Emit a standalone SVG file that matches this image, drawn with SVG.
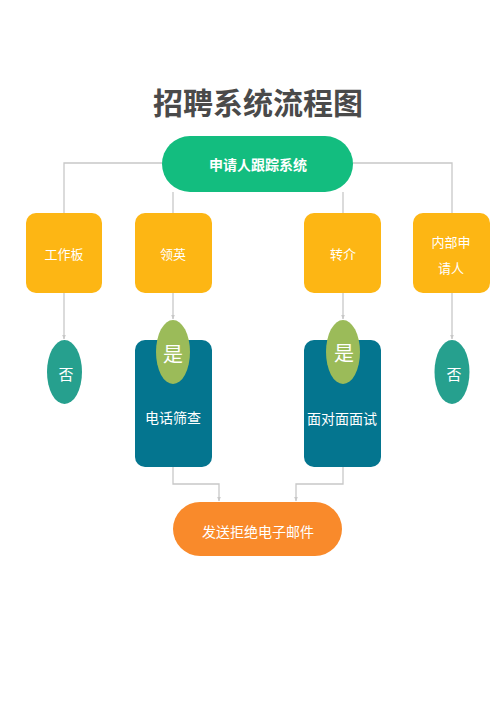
<svg xmlns="http://www.w3.org/2000/svg" width="500" height="707" viewBox="0 0 500 707">
<style>
.t{font-family:"Noto Sans CJK SC","Noto Sans",sans-serif;fill:#fff;text-anchor:middle;dominant-baseline:central}
.c{fill:none;stroke:#c8c8c8;stroke-width:1.3}
.y{fill:#fdb614}
.b{fill:#04758f}
.g{fill:#9bbb59}
.n{fill:#26a08e}
</style>
<defs>
<marker id="a" viewBox="0 0 10 10" refX="9" refY="5" markerWidth="5" markerHeight="5" orient="auto" markerUnits="userSpaceOnUse">
<path d="M0,1 L10,5 L0,9 z" fill="#c8c8c8"/>
</marker>
</defs>
<rect width="500" height="707" fill="#fff"/>
<text x="258" y="101" class="t" style="fill:#4a4a4a;font-size:30px;font-weight:bold">招聘系统流程图</text>
<g id="connectors">
<path class="c" d="M162,163 H64 V213"/>
<path class="c" d="M353,163 H452 V213"/>
<path class="c" d="M173,192 V213"/>
<path class="c" d="M343,192 V213"/>
<path class="c" d="M64,293 V339" marker-end="url(#a)"/>
<path class="c" d="M173,293 V319" marker-end="url(#a)"/>
<path class="c" d="M343,293 V319" marker-end="url(#a)"/>
<path class="c" d="M452,293 V339" marker-end="url(#a)"/>
<path class="c" d="M173,467 V484 H219 V501" marker-end="url(#a)"/>
<path class="c" d="M343,467 V484 H296 V501" marker-end="url(#a)"/>
</g>
<g id="ats">
<rect x="162" y="136" width="191" height="56" rx="28" fill="#13bd7f"/>
<text x="258" y="164" class="t" style="font-size:14px;font-weight:bold">申请人跟踪系统</text>
</g>
<g id="jobboard">
<rect x="26" y="213" width="76" height="80" rx="10" class="y"/>
<text x="64" y="253" class="t" style="font-size:13px">工作板</text>
</g>
<g id="linkedin">
<rect x="135" y="213" width="77" height="80" rx="10" class="y"/>
<text x="173" y="253" class="t" style="font-size:13px">领英</text>
</g>
<g id="referral">
<rect x="304" y="213" width="77" height="80" rx="10" class="y"/>
<text x="343" y="253" class="t" style="font-size:13px">转介</text>
</g>
<g id="internal">
<rect x="413" y="213" width="77" height="80" rx="10" class="y"/>
<text x="451" y="241" class="t" style="font-size:13px">内部申</text>
<text x="451" y="267" class="t" style="font-size:13px">请人</text>
</g>
<g id="no1">
<ellipse cx="64.5" cy="372" rx="17.5" ry="32" class="n"/>
<text x="66" y="373" class="t" style="font-size:15px">否</text>
</g>
<g id="no2">
<ellipse cx="452" cy="372" rx="17.5" ry="32" class="n"/>
<text x="454" y="373" class="t" style="font-size:15px">否</text>
</g>
<g id="phone">
<rect x="135" y="340" width="77" height="127" rx="10" class="b"/>
<text x="173" y="417" class="t" style="font-size:14px">电话筛查</text>
</g>
<g id="interview">
<rect x="304" y="340" width="77" height="127" rx="10" class="b"/>
<text x="342" y="418" class="t" style="font-size:14px">面对面面试</text>
</g>
<g id="yes1">
<ellipse cx="173" cy="352" rx="17" ry="32" class="g"/>
<text x="173" y="353" class="t" style="font-size:20px">是</text>
</g>
<g id="yes2">
<ellipse cx="343" cy="352" rx="17" ry="32" class="g"/>
<text x="344" y="352" class="t" style="font-size:20px">是</text>
</g>
<g id="reject">
<rect x="173" y="502" width="169" height="54" rx="27" fill="#f98a2b"/>
<text x="258" y="531" class="t" style="font-size:14px">发送拒绝电子邮件</text>
</g>
</svg>
